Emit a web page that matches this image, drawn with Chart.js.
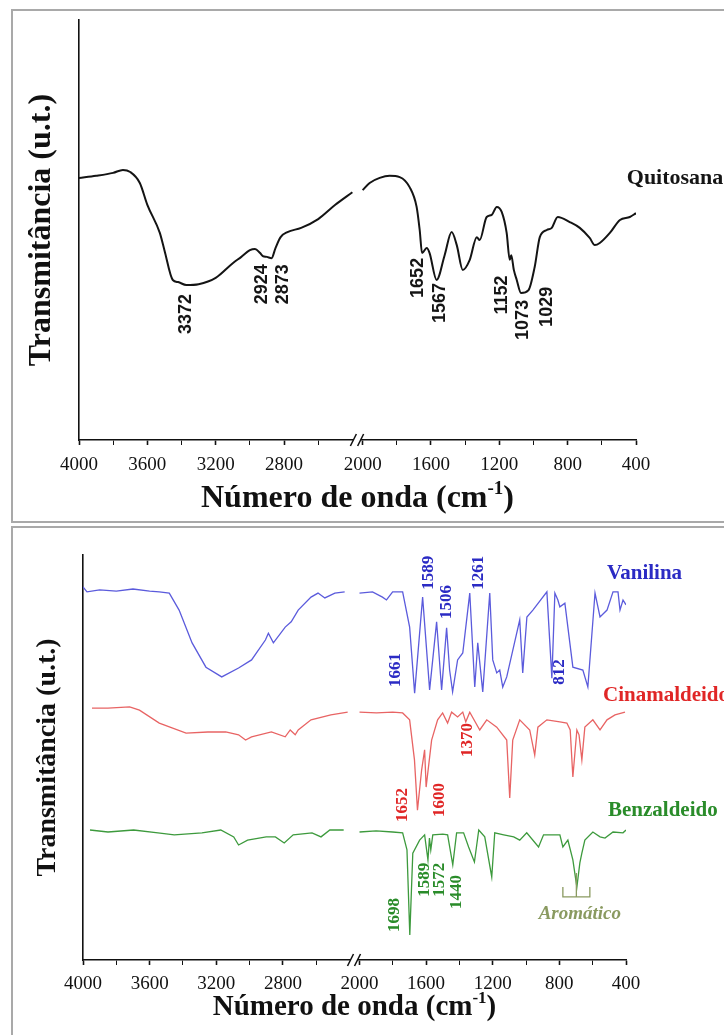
<!DOCTYPE html>
<html>
<head>
<meta charset="utf-8">
<script src="https://cdn.jsdelivr.net/npm/chart.js@4.4.1/dist/chart.umd.min.js"></script>
<style>
  body { margin: 0; background: #fff; width: 724px; height: 1035px; position: relative; overflow: hidden; }
  .frame { position: absolute; border: 2px solid #a9a9a9; }
  #f1 { left: 11px; top: 9px; width: 730px; height: 510px; }
  #f2 { left: 11px; top: 526px; width: 730px; height: 520px; }
  canvas { position: absolute; left: 0; }
  #c1 { top: 0; }
  #c2 { top: 527px; }
</style>
</head>
<body>
<div class="frame" id="f1"></div>
<div class="frame" id="f2"></div>
<canvas id="c1" width="724" height="523"></canvas>
<canvas id="c2" width="724" height="508"></canvas>
<script>
// eixo x quebrado: 4000-2400 | 2000-400
var majorTicks = [4000, 3600, 3200, 2800, 2000, 1600, 1200, 800, 400];
var minorTicks = [3800, 3400, 3000, 2600, 1800, 1400, 1000, 600];

// Quitosana
var quitWn = [4000, 3900, 3800, 3743, 3700, 3644, 3600, 3527, 3500, 3451, 3420, 3372, 3300, 3200, 3100, 3050, 3000, 2970, 2940, 2924, 2900, 2873, 2850, 2820, 2780, 2700, 2600, 2500, 2400,
  2000, 1959, 1900, 1842, 1783, 1725, 1684, 1666, 1652, 1625, 1608, 1567, 1520, 1479, 1449, 1414, 1373, 1332, 1315, 1274, 1244, 1215, 1186, 1157, 1139, 1130, 1115, 1098, 1073, 1029, 993, 963, 922, 893, 858, 788, 729, 671, 641, 612, 553, 494, 436, 400];
var quitT = [62.4, 62.9, 63.6, 64.3, 63.8, 61.2, 56.0, 49.3, 45.2, 38.1, 37.6, 36.9, 37.1, 38.6, 42.1, 43.6, 45.2, 45.5, 44.5, 43.8, 43.6, 43.3, 45.7, 48.3, 49.5, 50.5, 52.6, 56.0, 59.0,
  59.5, 61.2, 62.4, 62.9, 62.6, 60.2, 55.5, 50.0, 44.5, 45.7, 44.5, 38.1, 44.0, 49.5, 46.4, 40.5, 42.9, 48.3, 47.6, 53.1, 53.6, 55.5, 54.3, 49.3, 42.9, 44.0, 40.5, 38.1, 35.0, 35.7, 41.2, 48.3, 50.0, 50.5, 53.1, 51.9, 50.5, 48.1, 46.4, 46.9, 49.3, 52.4, 53.1, 54.0];

// Vanilina
var vanWn = [4000, 3976, 3900, 3800, 3700, 3600, 3542, 3482, 3423, 3345, 3262, 3167, 3066, 2988, 2905, 2887, 2857, 2786, 2750, 2708, 2631, 2589, 2548, 2488, 2429,
  2000, 1922, 1862, 1838, 1801, 1741, 1699, 1669, 1621, 1579, 1537, 1507, 1477, 1459, 1441, 1411, 1380, 1338, 1308, 1290, 1260, 1218, 1200, 1176, 1158, 1140, 1116, 1038, 1020, 995, 959, 875, 845, 827, 809, 797, 767, 719, 659, 629, 586, 556, 514, 478, 448, 436, 418, 400];
var vanT = [92.1, 90.9, 91.4, 91.1, 91.6, 91.1, 90.9, 90.6, 86.4, 78.3, 72.3, 69.9, 72.1, 74.1, 79.0, 80.7, 78.3, 82.2, 83.5, 86.4, 89.6, 90.6, 89.4, 90.6, 90.9,
  90.6, 90.9, 89.6, 88.9, 90.9, 90.9, 82.2, 65.9, 89.6, 66.7, 83.5, 66.7, 82.0, 71.6, 66.2, 74.1, 75.8, 90.6, 67.4, 78.3, 66.2, 90.6, 74.1, 70.9, 71.6, 67.4, 69.9, 84.0, 70.9, 84.7, 86.4, 90.9, 69.6, 90.6, 88.9, 87.2, 88.1, 72.3, 71.6, 67.4, 90.6, 84.7, 86.4, 90.9, 90.9, 86.4, 88.9, 87.7];

// Cinamaldeido
var cinWn = [3946, 3850, 3720, 3661, 3542, 3381, 3250, 3143, 3066, 3024, 2988, 2869, 2786, 2756, 2726, 2708, 2631, 2512, 2411,
  2000, 1898, 1801, 1741, 1699, 1670, 1652, 1627, 1609, 1600, 1567, 1531, 1501, 1471, 1447, 1411, 1380, 1362, 1338, 1278, 1236, 1176, 1116, 1098, 1080, 1038, 978, 948, 929, 875, 797, 755, 735, 719, 695, 682, 665, 647, 599, 556, 514, 466, 406];
var cinT = [62.2, 62.2, 62.5, 61.7, 58.5, 56.0, 56.3, 56.3, 55.6, 54.3, 55.1, 56.3, 55.1, 56.8, 55.6, 56.8, 59.3, 60.5, 61.2,
  61.2, 61.0, 61.2, 61.0, 59.3, 49.4, 37.0, 46.9, 51.9, 42.7, 54.3, 59.3, 61.0, 58.5, 61.2, 60.0, 61.2, 58.8, 61.2, 56.8, 59.3, 57.5, 54.3, 40.0, 54.3, 59.3, 56.8, 50.6, 57.5, 59.3, 58.8, 58.5, 56.8, 45.2, 56.8, 55.6, 49.4, 57.5, 59.3, 56.8, 59.3, 60.5, 61.2];

// Benzaldeido
var benWn = [3958, 3850, 3696, 3550, 3452, 3286, 3173, 3095, 3066, 3012, 2900, 2845, 2792, 2738, 2625, 2571, 2518, 2435,
  2000, 1900, 1801, 1741, 1715, 1698, 1680, 1639, 1609, 1589, 1580, 1572, 1560, 1500, 1471, 1440, 1417, 1375, 1345, 1310, 1284, 1248, 1206, 1188, 1134, 1074, 1038, 996, 925, 895, 797, 779, 749, 719, 695, 677, 665, 647, 599, 556, 526, 478, 418, 400];
var benT = [32.1, 31.6, 32.1, 31.4, 30.9, 31.4, 32.1, 30.4, 28.4, 29.6, 30.4, 30.4, 28.9, 30.9, 31.4, 30.4, 32.1, 32.1,
  31.6, 31.9, 31.6, 31.4, 27.2, 6.2, 26.4, 29.6, 30.9, 24.7, 30.1, 27.2, 30.9, 31.1, 30.9, 23.5, 31.4, 31.4, 27.9, 24.2, 32.1, 30.4, 20.5, 31.4, 30.9, 30.4, 29.6, 31.4, 27.9, 30.9, 30.9, 27.9, 29.6, 24.7, 18.0, 24.0, 26.4, 29.6, 31.6, 30.4, 30.1, 31.6, 31.4, 32.1];

// rotulos dos picos: [texto, numero de onda, T]
var quitPeaks = [['3372', 3372, 30.0], ['2924', 2931, 37.1], ['2873', 2803, 37.1], ['1652', 1678, 38.6], ['1567', 1549, 32.6],
  ['1152', 1186, 34.5], ['1073', 1063, 28.6], ['1029', 922, 31.7]];
var vanPeaks = [['1661', 1783, 71.6], ['1589', 1585, 95.6], ['1506', 1477, 88.4], ['1261', 1284, 95.6], ['812', 797, 71.1]];
var cinPeaks = [['1370', 1350, 54.3], ['1652', 1741, 38.3], ['1600', 1519, 39.5]];
var benPeaks = [['1698', 1789, 11.1], ['1589', 1609, 19.8], ['1572', 1519, 19.8], ['1440', 1417, 16.8]];

var GAP = 60;
function pos(wn) { return wn > 2200 ? 4000 - wn : 1600 + GAP + (2000 - wn); }
function wnOf(u) { return u <= 1600 ? 4000 - u : 2000 - (u - 1600 - GAP); }

function build(wn, t) {
  var pts = [];
  for (var i = 0; i < wn.length; i++) {
    if (i > 0 && wn[i - 1] > 2200 && wn[i] <= 2200) pts.push({ x: 1600 + GAP / 2, y: null });
    pts.push({ x: pos(wn[i]), y: t[i] });
  }
  return pts;
}

Chart.defaults.font.family = "'Liberation Serif', 'Times New Roman', serif";
Chart.defaults.color = '#111';

function xScale(opt) {
  return {
    type: 'linear', min: 0, max: 3200 + GAP,
    afterFit: function (s) { s.height = opt.height; },
    afterBuildTicks: function (s) {
      s.ticks = majorTicks.concat(minorTicks).map(function (v) { return { value: pos(v) }; })
        .sort(function (a, b) { return a.value - b.value; });
    },
    ticks: {
      autoSkip: false, maxRotation: 0, padding: opt.tickPad,
      font: { size: opt.tickSize },
      callback: function (v) { var w = Math.round(wnOf(v)); return majorTicks.indexOf(w) >= 0 ? String(w) : ''; }
    },
    grid: {
      drawOnChartArea: false, tickLength: 5, tickColor: '#111',
      tickWidth: function (c) { return c.tick && majorTicks.indexOf(Math.round(wnOf(c.tick.value))) >= 0 ? 1.6 : 1; }
    },
    border: { color: '#111', width: 1.6 },
    title: { display: false }
  };
}

function yScale(opt) {
  return {
    min: 0, max: 100,
    afterFit: function (s) { s.width = opt.width; },
    ticks: { display: false },
    grid: { drawOnChartArea: false, drawTicks: false },
    border: { color: '#111', width: 1.6 },
    title: {
      display: true, text: 'Transmitância (u.t.)', color: '#111',
      font: { size: opt.titleSize, weight: 'bold' }, padding: { top: opt.titlePad, bottom: 0 }
    }
  };
}

function drawText(ctx, x, y, text, font, color, rot, align) {
  ctx.save();
  ctx.translate(x, y);
  if (rot) ctx.rotate(-Math.PI / 2);
  ctx.font = font;
  ctx.fillStyle = color;
  ctx.textAlign = align || 'center';
  ctx.textBaseline = 'middle';
  ctx.fillText(text, 0, 0);
  ctx.restore();
}

// titulo do eixo x com expoente (cm-1)
function xTitle(size, yPos) {
  return {
    id: 'xTitle',
    afterDraw: function (chart) {
      var ctx = chart.ctx, ca = chart.chartArea;
      var big = 'bold ' + size + "px 'Liberation Serif', serif";
      var small = 'bold ' + Math.round(size * 0.6) + "px 'Liberation Serif', serif";
      var a = 'Número de onda (cm', s = '-1', b = ')';
      ctx.save();
      ctx.font = big; var wa = ctx.measureText(a).width, wb = ctx.measureText(b).width;
      ctx.font = small; var ws = ctx.measureText(s).width;
      var x0 = (ca.left + ca.right) / 2 - (wa + ws + wb) / 2;
      ctx.fillStyle = '#111';
      ctx.textBaseline = 'alphabetic';
      ctx.textAlign = 'left';
      ctx.font = big; ctx.fillText(a, x0, yPos);
      ctx.font = small; ctx.fillText(s, x0 + wa, yPos - size * 0.42);
      ctx.font = big; ctx.fillText(b, x0 + wa + ws, yPos);
      ctx.restore();
    }
  };
}

// marca de quebra "//" no eixo x
var breakMarks = {
  id: 'breakMarks',
  afterDraw: function (chart) {
    var ctx = chart.ctx, x = chart.scales.x, yb = chart.chartArea.bottom;
    var a = x.getPixelForValue(1600) + 1, b = x.getPixelForValue(1600 + GAP) - 2;
    ctx.save();
    ctx.fillStyle = '#fff';
    ctx.fillRect(a, yb - 3, b - a, 6);
    ctx.strokeStyle = '#111';
    ctx.lineWidth = 1.5;
    [a, b].forEach(function (p) {
      ctx.beginPath(); ctx.moveTo(p - 3, yb + 6); ctx.lineTo(p + 3, yb - 6); ctx.stroke();
    });
    ctx.restore();
  }
};

function peakLabels(groups) {
  return {
    id: 'peakLabels',
    afterDatasetsDraw: function (chart) {
      var ctx = chart.ctx, x = chart.scales.x, y = chart.scales.y;
      groups.forEach(function (g) {
        g.items.forEach(function (p) {
          drawText(ctx, x.getPixelForValue(pos(p[1])), y.getPixelForValue(p[2]), p[0], g.font, g.color, g.rot, g.align);
        });
      });
    }
  };
}

// grafico 1 - Quitosana
new Chart(document.getElementById('c1'), {
  type: 'line',
  data: {
    datasets: [{
      data: build(quitWn, quitT), borderColor: '#141414', borderWidth: 2,
      pointRadius: 0, tension: 0.35, cubicInterpolationMode: 'monotone', spanGaps: false
    }]
  },
  options: {
    responsive: false, animation: false,
    layout: { padding: { left: 0, right: 88, top: 20, bottom: 0 } },
    plugins: { legend: { display: false }, tooltip: { enabled: false } },
    scales: {
      x: xScale({ height: 83, tickPad: 9, tickSize: 19 }),
      y: yScale({ width: 79, titleSize: 32, titlePad: 23 })
    }
  },
  plugins: [breakMarks, xTitle(32, 507), peakLabels([
    { items: quitPeaks, font: "bold 18px 'Liberation Sans', Arial, sans-serif", color: '#151515', rot: true },
    { items: [['Quitosana', 454, 62.4]], font: "bold 22px 'Liberation Serif', serif", color: '#151515', rot: false, align: 'left' }
  ])]
});

// grafico 2 - Vanilina, Cinamaldeido, Benzaldeido
var aromatic = {
  id: 'aromatic',
  afterDatasetsDraw: function (chart) {
    var ctx = chart.ctx, x = chart.scales.x, y = chart.scales.y;
    var l = x.getPixelForValue(pos(779)), r = x.getPixelForValue(pos(617)), m = x.getPixelForValue(pos(698));
    var top = y.getPixelForValue(18.0), bar = y.getPixelForValue(15.6), stem = y.getPixelForValue(21.5);
    ctx.save();
    ctx.strokeStyle = '#8a9a60';
    ctx.lineWidth = 1.3;
    ctx.beginPath();
    ctx.moveTo(l, top); ctx.lineTo(l, bar); ctx.lineTo(r, bar); ctx.lineTo(r, top);
    ctx.moveTo(m, bar); ctx.lineTo(m, stem);
    ctx.stroke();
    ctx.restore();
    drawText(ctx, x.getPixelForValue(pos(677)), y.getPixelForValue(11.4), 'Aromático', "italic bold 19px 'Liberation Serif', serif", '#8a9a60', false);
  }
};

new Chart(document.getElementById('c2'), {
  type: 'line',
  data: {
    datasets: [
      { data: build(vanWn, vanT), borderColor: '#5b5bdc', borderWidth: 1.3, pointRadius: 0, tension: 0, spanGaps: false },
      { data: build(cinWn, cinT), borderColor: '#e86464', borderWidth: 1.3, pointRadius: 0, tension: 0, spanGaps: false },
      { data: build(benWn, benT), borderColor: '#3d9a3d', borderWidth: 1.3, pointRadius: 0, tension: 0, spanGaps: false }
    ]
  },
  options: {
    responsive: false, animation: false,
    layout: { padding: { left: 0, right: 98, top: 28, bottom: 0 } },
    plugins: { legend: { display: false }, tooltip: { enabled: false } },
    scales: {
      x: xScale({ height: 75, tickPad: 8, tickSize: 19 }),
      y: yScale({ width: 83, titleSize: 28, titlePad: 31 })
    }
  },
  plugins: [breakMarks, aromatic, xTitle(29, 488), peakLabels([
    { items: vanPeaks, font: "bold 17px 'Liberation Serif', serif", color: '#2b2bc4', rot: true },
    { items: cinPeaks, font: "bold 17px 'Liberation Serif', serif", color: '#e02626', rot: true },
    { items: benPeaks, font: "bold 17px 'Liberation Serif', serif", color: '#2a8c2a', rot: true },
    { items: [['Vanilina', 514, 95.3]], font: "bold 21px 'Liberation Serif', serif", color: '#2b2bc4', rot: false, align: 'left' },
    { items: [['Cinamaldeido', 538, 65.4]], font: "bold 21px 'Liberation Serif', serif", color: '#e02626', rot: false, align: 'left' },
    { items: [['Benzaldeido', 508, 36.8]], font: "bold 21px 'Liberation Serif', serif", color: '#2a8c2a', rot: false, align: 'left' }
  ])]
});
</script>
</body>
</html>
